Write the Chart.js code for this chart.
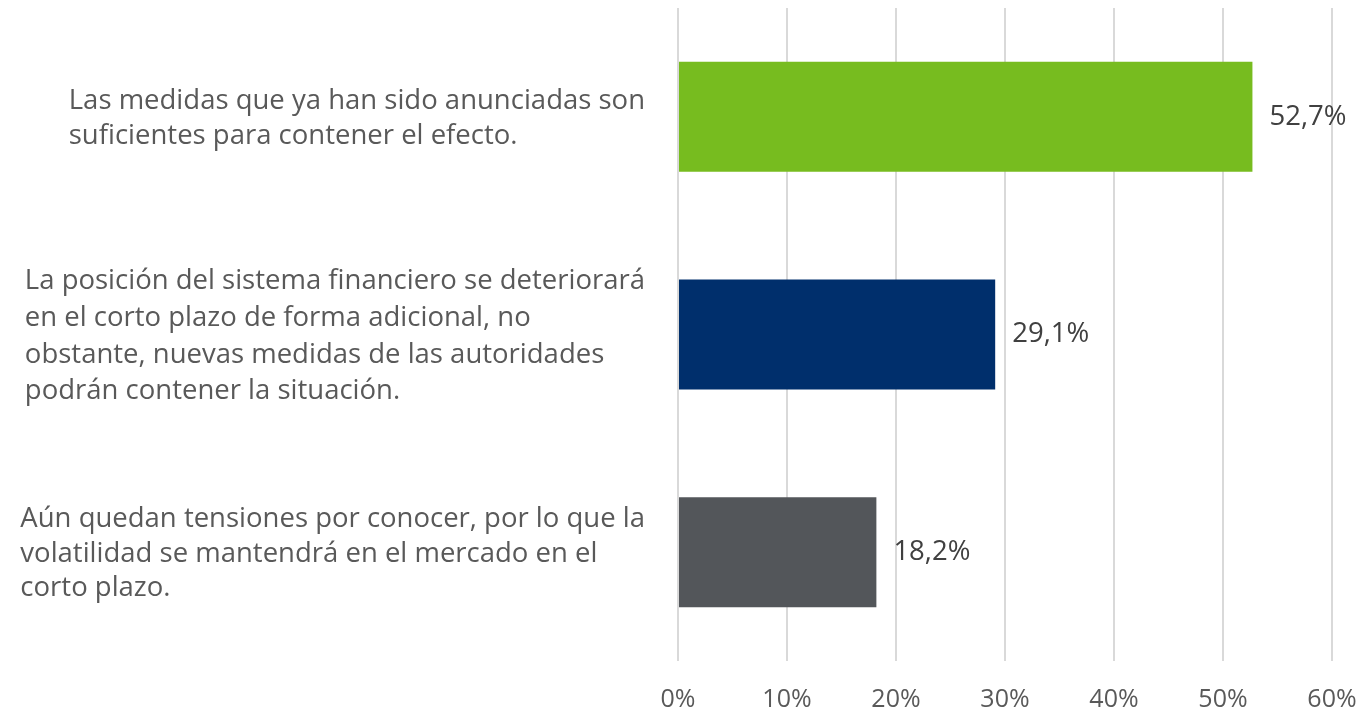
<!DOCTYPE html>
<html>
<head>
<meta charset="utf-8">
<script src="https://cdn.jsdelivr.net/npm/chart.js@4"></script>
<style>
  html, body { margin: 0; padding: 0; background: #fff; }
  #wrap { width: 1364px; height: 717px; }
</style>
</head>
<body>
<div id="wrap"><canvas id="chart"></canvas></div>
<script>
const categories = [
  ['Las medidas que ya han sido anunciadas son', 'suficientes para contener el efecto.'],
  ['La posición del sistema financiero se deteriorará', 'en el corto plazo de forma adicional, no', 'obstante, nuevas medidas de las autoridades', 'podrán contener la situación.'],
  ['Aún quedan tensiones por conocer, por lo que la', 'volatilidad se mantendrá en el mercado en el', 'corto plazo.']
];
const values = [52.7, 29.1, 18.2];
const barColors = ['#77BC1F', '#002F6C', '#53565A'];
const xTicks = [0, 10, 20, 30, 40, 50, 60];

const FONT = '"Open Sans", sans-serif';
const fmt = v => v.toFixed(1).replace('.', ',') + '%';

// category labels: lines left-aligned, block right-aligned against the plot
const labelPlugin = {
  id: 'labels',
  afterDraw(chart) {
    const ctx = chart.ctx;
    const y = chart.scales.y;
    const right = chart.chartArea.left - 33;
    ctx.save();
    ctx.font = '27.5px ' + FONT;
    ctx.fillStyle = '#595959';
    ctx.textBaseline = 'middle';
    ctx.textAlign = 'left';
    categories.forEach((lines, i) => {
      const cy = y.getPixelForTick(i) + 2;
      const lh = lines.length > 3 ? 36.7 : 34.5;
      const w = Math.max(...lines.map(l => ctx.measureText(l).width));
      const top = cy - (lines.length - 1) * lh / 2;
      lines.forEach((l, j) => ctx.fillText(l, right - w, top + j * lh));
    });
    // value labels
    ctx.fillStyle = '#404040';
    const meta = chart.getDatasetMeta(0);
    meta.data.forEach((bar, i) => {
      ctx.fillText(fmt(values[i]), bar.x + 17, bar.y);
    });
    ctx.restore();
  }
};

new Chart(document.getElementById('chart'), {
  type: 'bar',
  data: {
    labels: categories,
    datasets: [{
      data: values,
      backgroundColor: barColors,
      categoryPercentage: 1,
      barPercentage: 0.505
    }]
  },
  options: {
    indexAxis: 'y',
    responsive: true,
    maintainAspectRatio: false,
    animation: false,
    layout: { padding: { top: 8, right: 32, bottom: 0, left: 0 } },
    plugins: { legend: { display: false }, tooltip: { enabled: false } },
    scales: {
      x: {
        min: 0,
        max: 60,
        afterBuildTicks(scale) { scale.ticks = xTicks.map(v => ({ value: v })); },
        afterFit(scale) {
          scale.height = 56;
          scale.paddingLeft = 0;
          scale.paddingRight = 0;
        },
        grid: { color: '#D9D9D9', lineWidth: 2, drawTicks: false },
        border: { display: false },
        ticks: {
          padding: 24,
          color: '#595959',
          font: { family: FONT, size: 25 },
          maxRotation: 0,
          callback: v => v + '%'
        }
      },
      y: {
        grid: { display: false },
        border: { display: false },
        ticks: { display: false },
        afterFit(scale) { scale.width = 678; }
      }
    }
  },
  plugins: [labelPlugin]
});
</script>
</body>
</html>
